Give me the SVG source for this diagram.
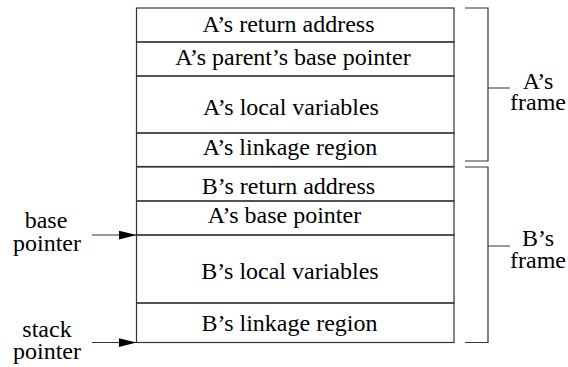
<svg xmlns="http://www.w3.org/2000/svg" width="568" height="367" viewBox="0 0 568 367">
<style>
  .ln { stroke: #333; stroke-width: 1.2; fill: none; }
  text { font-family: "Liberation Serif", "Times New Roman", serif; font-size: 24px; fill: #000; text-anchor: middle; }
</style>
<defs>
  <marker id="arr" markerWidth="18" markerHeight="10" refX="18" refY="5" orient="auto" markerUnits="userSpaceOnUse">
    <path d="M0,0.5 L18,5 L0,9.5 Z" fill="#000"/>
  </marker>
</defs>
<rect width="568" height="367" fill="#fff"/>
<g id="a-frame">
  <g id="a-return"><rect class="ln" x="136.5" y="8" width="317.5" height="34"/><text x="288.5" y="32">A’s return address</text></g>
  <g id="a-parent-bp"><rect class="ln" x="136.5" y="42" width="317.5" height="34"/><text x="293" y="65">A’s parent’s base pointer</text></g>
  <g id="a-locals"><rect class="ln" x="136.5" y="76" width="317.5" height="57"/><text x="291" y="115">A’s local variables</text></g>
  <g id="a-linkage"><rect class="ln" x="136.5" y="133" width="317.5" height="33.5"/><text x="290" y="155">A’s linkage region</text></g>
</g>
<g id="b-frame">
  <g id="b-return"><rect class="ln" x="136.5" y="167" width="317.5" height="34"/><text x="288.5" y="194">B’s return address</text></g>
  <g id="a-bp"><rect class="ln" x="136.5" y="201" width="317.5" height="34"/><text x="284.5" y="223">A’s base pointer</text></g>
  <g id="b-locals"><rect class="ln" x="136.5" y="235" width="317.5" height="68"/><text x="290" y="279">B’s local variables</text></g>
  <g id="b-linkage"><rect class="ln" x="136.5" y="303" width="317.5" height="39.5"/><text x="289.5" y="331">B’s linkage region</text></g>
</g>
<g id="a-frame-label">
  <text x="538" y="89">A’s</text>
  <text x="538" y="110">frame</text>
</g>
<g id="b-frame-label">
  <text x="538" y="246">B’s</text>
  <text x="538" y="268">frame</text>
</g>
<g id="base-pointer-label">
  <text x="46" y="228">base</text>
  <text x="47" y="251">pointer</text>
</g>
<g id="stack-pointer-label">
  <text x="47" y="337">stack</text>
  <text x="47" y="359">pointer</text>
</g>
<g id="connectors">
  <path class="ln" d="M465,8 H488 V161 H465 M488,88 H510"/>
  <path class="ln" d="M465,167 H488 V342.5 H465 M488,246 H510"/>
  <line class="ln" x1="92" y1="235" x2="136.5" y2="235" marker-end="url(#arr)"/>
  <line class="ln" x1="92" y1="342.5" x2="136.5" y2="342.5" marker-end="url(#arr)"/>
</g>
</svg>
